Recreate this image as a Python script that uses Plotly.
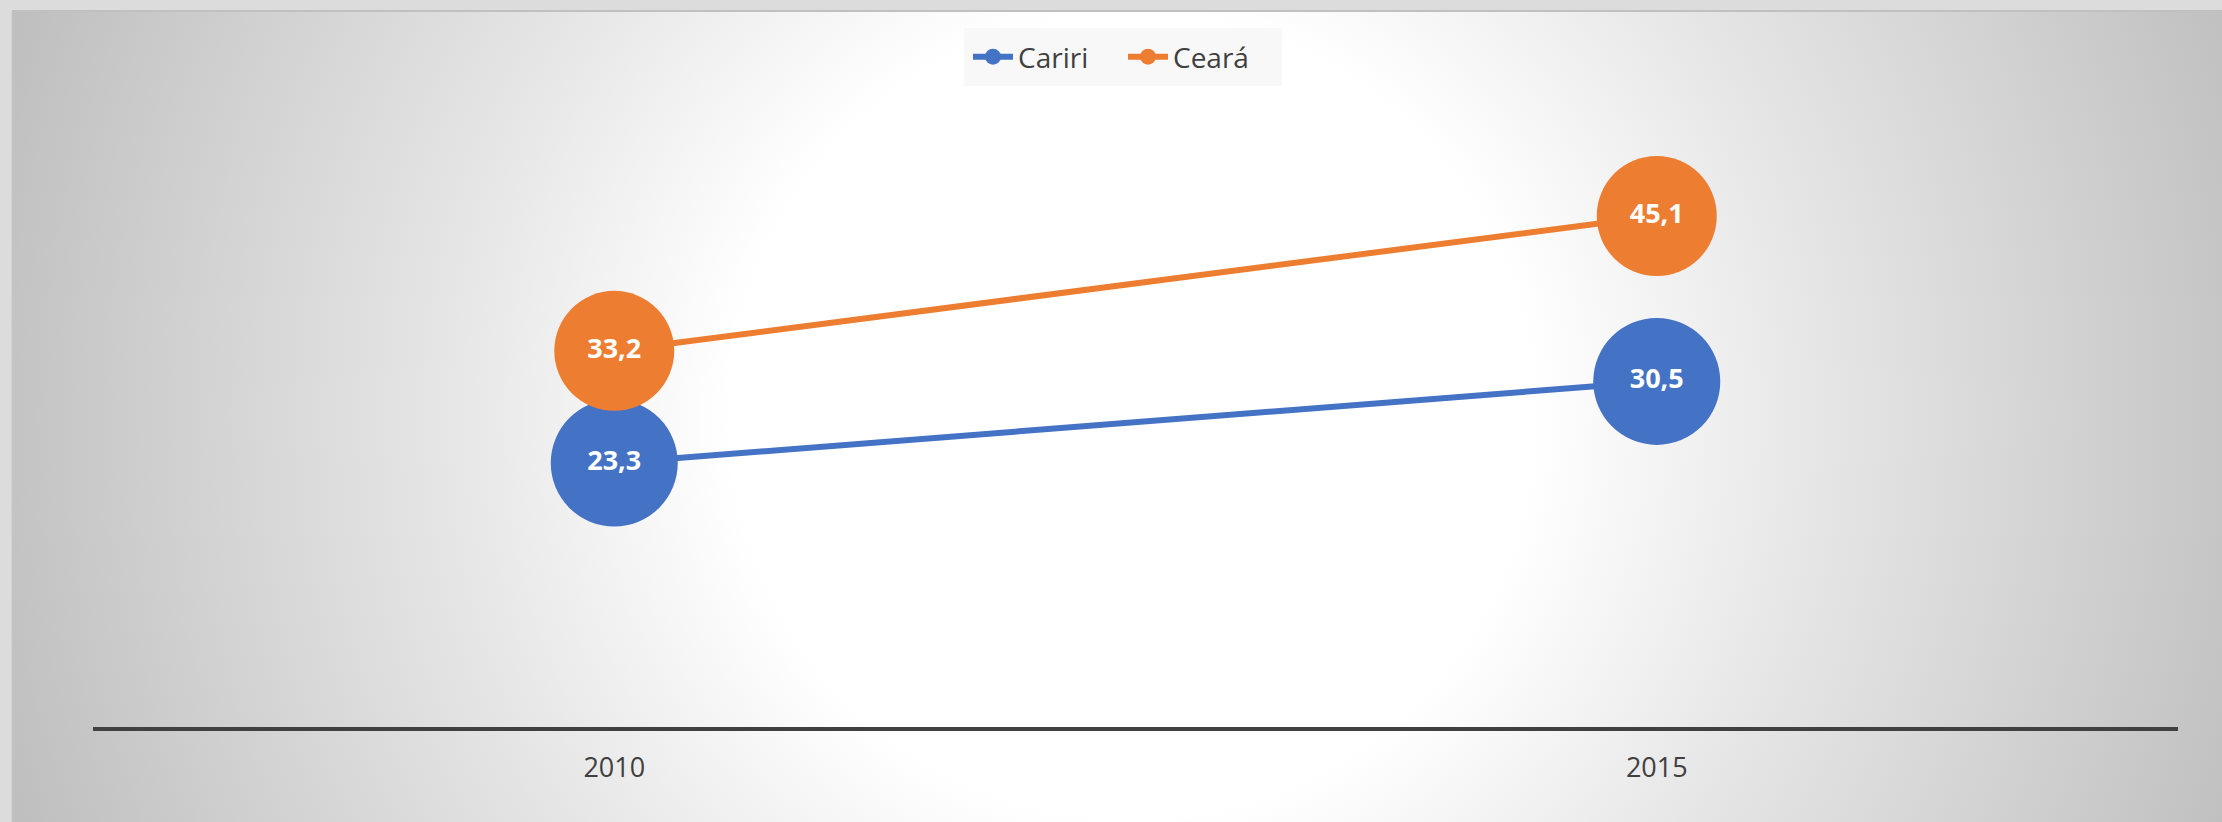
import base64
import plotly.graph_objects as go

# ---- data ----
years = ["2010", "2015"]
cariri = [23.3, 30.5]
ceara = [33.2, 45.1]
cariri_labels = ["23,3", "30,5"]
ceara_labels = ["33,2", "45,1"]

W, H = 2222, 822
BLUE = "#4472C4"
ORANGE = "#ED7D31"
TXT = "#404040"
FONT = "Open Sans"

# radial gradient background (chart area)
cx0, cy0, cw, ch = 12, 11, W - 12, H - 11
svg = f'''<svg xmlns="http://www.w3.org/2000/svg" width="{cw}" height="{ch}" viewBox="0 0 {cw} {ch}">
<defs><radialGradient id="g" gradientUnits="userSpaceOnUse" cx="{cw/2+15}" cy="{ch/2}" r="1180">
<stop offset="0" stop-color="#ffffff"/>
<stop offset="0.34" stop-color="#ffffff"/>
<stop offset="0.58" stop-color="#e6e6e6"/>
<stop offset="1" stop-color="#bfbfbf"/>
</radialGradient></defs>
<rect x="0" y="0" width="{cw}" height="{ch}" fill="url(#g)"/>
</svg>'''
src = "data:image/svg+xml;base64," + base64.b64encode(svg.encode()).decode()

fig = go.Figure()
fig.add_trace(go.Scatter(
    x=years, y=cariri, name="Cariri", mode="lines+markers+text",
    line=dict(color=BLUE, width=6),
    marker=dict(color=BLUE, size=127, line=dict(width=0)),
    text=cariri_labels, textposition="middle center",
    textfont=dict(family=FONT, size=27, color="white", weight="bold"),
    hoverinfo="skip", cliponaxis=False,
))
fig.add_trace(go.Scatter(
    x=years, y=ceara, name="Ceará", mode="lines+markers+text",
    line=dict(color=ORANGE, width=6),
    marker=dict(color=ORANGE, size=120, line=dict(width=0)),
    text=ceara_labels, textposition="middle center",
    textfont=dict(family=FONT, size=27, color="white", weight="bold"),
    hoverinfo="skip", cliponaxis=False,
))

y_bottom = (H - 727) / H
y_top = (H - 160.5) / H

fig.update_layout(
    width=W, height=H,
    margin=dict(l=0, r=0, t=0, b=0),
    paper_bgcolor="#dcdcdc",
    plot_bgcolor="rgba(0,0,0,0)",
    font=dict(family=FONT, color=TXT),
    showlegend=True,
    legend=dict(
        orientation="h", x=1123 / W, xanchor="center", y=1 - 28 / H, yanchor="top",
        bgcolor="#f8f8f8", bordercolor="#f8f8f8", borderwidth=4,
        font=dict(family=FONT, size=28, color=TXT),
        itemwidth=40, entrywidth=100, entrywidthmode="pixels", tracegroupgap=0,
    ),
    xaxis=dict(
        domain=[93 / W, 2178 / W], type="category", range=[-0.5, 1.5],
        showline=True, linecolor=TXT, linewidth=4,
        showgrid=False, zeroline=False, ticks="",
        tickfont=dict(family=FONT, size=27, color=TXT),
        ticklabelstandoff=14,
    ),
    yaxis=dict(
        domain=[y_bottom, y_top], range=[0, 50],
        visible=False, showgrid=False, zeroline=False,
    ),
    images=[dict(
        source=src, xref="paper", yref="paper",
        x=cx0 / W, y=1 - cy0 / H, sizex=cw / W, sizey=ch / H,
        xanchor="left", yanchor="top", sizing="stretch", layer="below",
    )],
    shapes=[dict(
        type="line", xref="paper", yref="paper",
        x0=cx0 / W, x1=1, y0=1 - cy0 / H, y1=1 - cy0 / H,
        line=dict(color="#c0c0c0", width=2),
    ), dict(
        type="line", xref="paper", yref="paper",
        x0=cx0 / W, x1=cx0 / W, y0=0, y1=1 - cy0 / H,
        line=dict(color="#c8c8c8", width=1),
    )],
)

fig.write_html("out.html", config={"displayModeBar": False},
               post_script="document.body.style.margin='0';")
